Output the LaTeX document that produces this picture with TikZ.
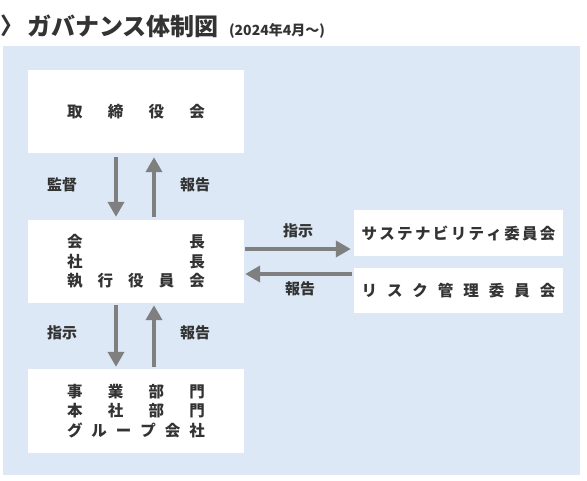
\documentclass[tikz,border=0pt]{standalone}
\usepackage{fontspec}
\setmainfont{Noto Sans CJK JP}
\usetikzlibrary{arrows.meta}

\definecolor{panelblue}{HTML}{DCE8F5}
\definecolor{arrowgray}{HTML}{7F7F7F}
\definecolor{textgray}{HTML}{333333}

\tikzset{
  box/.style={fill=white, minimum width=216pt, minimum height=83pt, inner sep=0pt,
    align=center, text width=138pt, text=textgray,
    font=\fontsize{15.5}{19.5}\selectfont\bfseries},
  sidebox/.style={fill=white, minimum width=209pt, minimum height=46pt, inner sep=0pt,
    align=center, text width=194pt, text=textgray,
    font=\fontsize{15.5}{18}\selectfont\bfseries},
  lbl/.style={text=textgray, font=\fontsize{15}{17}\selectfont\bfseries},
  arr/.style={draw=arrowgray, line width=4pt, -{Triangle[width=16pt,length=15pt]}},
}

\begin{document}
\begin{tikzpicture}[x=1pt, y=-1pt]
    \useasboundingbox (0,0) rectangle (587,480);
    \fill[panelblue] (3,46) rectangle (580,475);

    % title
    \node[anchor=west, inner sep=0pt, text=textgray, font=\fontsize{23}{26}\selectfont\bfseries] (mark) at (0,26) {〉};
    \node[anchor=west, inner sep=0pt, text=textgray, font=\fontsize{24}{27}\selectfont\bfseries] (title) at (27,26) {ガバナンス体制図};
    \node[anchor=base west, inner sep=0pt, xshift=10pt, text=textgray, font=\fontsize{14}{16}\selectfont\bfseries] (date) at (title.base east) {(2024年4月～)};

    % boxes
    \node[box] (board) at (136,111.5) {\makebox[\linewidth]{取\hfill 締\hfill 役\hfill 会}};
    \node[box] (exec) at (136,261.5) {\makebox[\linewidth]{会\hfill 長}\\
        \makebox[\linewidth]{社\hfill 長}\\
        \makebox[\linewidth]{執\hfill 行\hfill 役\hfill 員\hfill 会}};
    \node[box, minimum height=84pt] (dept) at (136,411) {\makebox[\linewidth]{事\hfill 業\hfill 部\hfill 門}\\
        \makebox[\linewidth]{本\hfill 社\hfill 部\hfill 門}\\
        \makebox[\linewidth]{グ\hfill ル\hfill ー\hfill プ\hfill 会\hfill 社}};
    \node[sidebox] (sust) at (458.5,233) {\makebox[\linewidth]{サ\hfill ス\hfill テ\hfill ナ\hfill ビ\hfill リ\hfill テ\hfill ィ\hfill 委\hfill 員\hfill 会}};
    \node[sidebox, minimum height=45pt] (risk) at (458.5,290.5) {\makebox[\linewidth]{リ\hfill ス\hfill ク\hfill 管\hfill 理\hfill 委\hfill 員\hfill 会}};

    % vertical arrows
    \draw[arr] ([xshift=-20pt, yshift=-4pt]board.south) -- ([xshift=-20pt, yshift=3pt]exec.north);
    \draw[arr] ([xshift=18pt, yshift=3pt]exec.north) -- ([xshift=18pt, yshift=-4pt]board.south);
    \draw[arr] ([xshift=-20pt, yshift=-2pt]exec.south) -- ([xshift=-20pt, yshift=2pt]dept.north);
    \draw[arr] ([xshift=18pt, yshift=2pt]dept.north) -- ([xshift=18pt, yshift=-2pt]exec.south);

    % side arrows
    \coordinate (toSust) at ([xshift=1pt, yshift=12.5pt]exec.east);
    \coordinate (fromRisk) at ([xshift=1pt, yshift=-12.5pt]exec.east);
    \draw[arr, shorten >=3pt] (toSust) -- (toSust -| sust.west);
    \draw[arr, shorten <=2pt] (fromRisk -| risk.west) -- (fromRisk);

    % labels
    \node[lbl] (lblA) at (62,185) {監督};
    \node[lbl] (lblB) at (195,185) {報告};
    \node[lbl] (lblC) at (62,333) {指示};
    \node[lbl] (lblD) at (195,333) {報告};
    \node[lbl] (lblE) at (298,231) {指示};
    \node[lbl] (lblF) at (300,289) {報告};
\end{tikzpicture}
\end{document}
